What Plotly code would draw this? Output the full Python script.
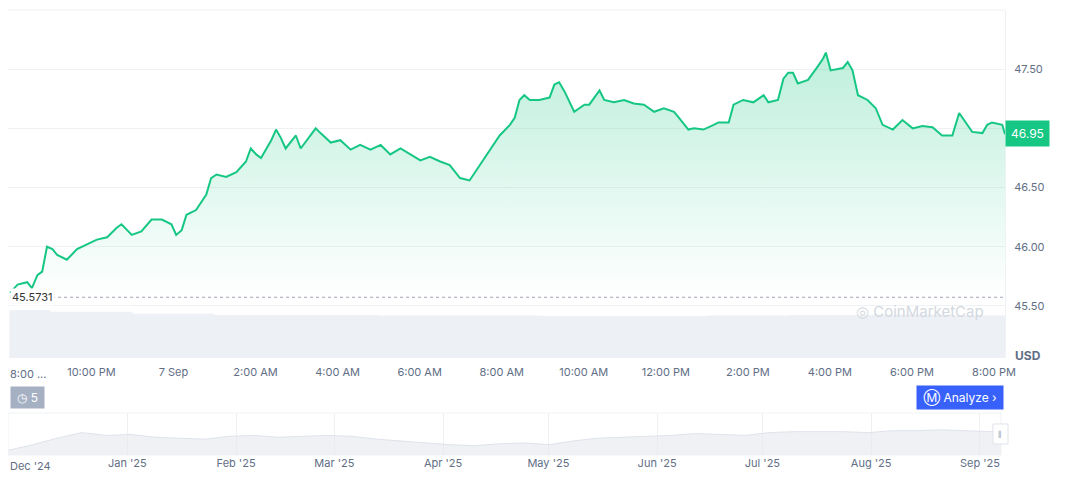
import plotly.graph_objects as go

times = ["2025-09-06 20:01","2025-09-06 20:12","2025-09-06 20:26","2025-09-06 20:33","2025-09-06 20:41","2025-09-06 20:48","2025-09-06 20:55","2025-09-06 21:03","2025-09-06 21:10","2025-09-06 21:24","2025-09-06 21:39","2025-09-06 21:53","2025-09-06 22:08","2025-09-06 22:23","2025-09-06 22:37","2025-09-06 22:44","2025-09-06 22:59","2025-09-06 23:13","2025-09-06 23:28","2025-09-06 23:43","2025-09-06 23:57",
"2025-09-07 00:04","2025-09-07 00:12","2025-09-07 00:19","2025-09-07 00:33","2025-09-07 00:48","2025-09-07 00:55","2025-09-07 01:03","2025-09-07 01:17","2025-09-07 01:32","2025-09-07 01:46","2025-09-07 01:53","2025-09-07 02:01","2025-09-07 02:08","2025-09-07 02:23","2025-09-07 02:30","2025-09-07 02:37","2025-09-07 02:44","2025-09-07 02:59","2025-09-07 03:06","2025-09-07 03:21","2025-09-07 03:28","2025-09-07 03:35","2025-09-07 03:50","2025-09-07 04:04","2025-09-07 04:19","2025-09-07 04:33","2025-09-07 04:48","2025-09-07 05:03","2025-09-07 05:17","2025-09-07 05:32","2025-09-07 05:46","2025-09-07 06:01","2025-09-07 06:15","2025-09-07 06:30","2025-09-07 06:44","2025-09-07 06:59","2025-09-07 07:13","2025-09-07 07:28","2025-09-07 07:43","2025-09-07 07:57","2025-09-07 08:12","2025-09-07 08:19","2025-09-07 08:26","2025-09-07 08:33","2025-09-07 08:41","2025-09-07 08:55","2025-09-07 09:10","2025-09-07 09:17","2025-09-07 09:24","2025-09-07 09:32","2025-09-07 09:46","2025-09-07 10:01","2025-09-07 10:08","2025-09-07 10:23","2025-09-07 10:30","2025-09-07 10:44","2025-09-07 10:59","2025-09-07 11:13","2025-09-07 11:28","2025-09-07 11:43","2025-09-07 11:57","2025-09-07 12:12","2025-09-07 12:19","2025-09-07 12:33","2025-09-07 12:41","2025-09-07 12:55","2025-09-07 13:10","2025-09-07 13:17","2025-09-07 13:32","2025-09-07 13:39","2025-09-07 13:53","2025-09-07 14:08","2025-09-07 14:23","2025-09-07 14:30","2025-09-07 14:44","2025-09-07 14:52","2025-09-07 14:59","2025-09-07 15:06","2025-09-07 15:13","2025-09-07 15:28","2025-09-07 15:43","2025-09-07 15:50","2025-09-07 15:54","2025-09-07 16:01","2025-09-07 16:19","2025-09-07 16:26","2025-09-07 16:33","2025-09-07 16:41","2025-09-07 16:55","2025-09-07 17:07","2025-09-07 17:17","2025-09-07 17:32","2025-09-07 17:46","2025-09-07 18:01","2025-09-07 18:15","2025-09-07 18:30","2025-09-07 18:44","2025-09-07 18:59","2025-09-07 19:09","2025-09-07 19:18","2025-09-07 19:28","2025-09-07 19:43","2025-09-07 19:50","2025-09-07 19:57","2025-09-07 20:12","2025-09-07 20:16"]
prices = [45.61,45.68,45.70,45.65,45.76,45.79,46.00,45.98,45.93,45.89,45.98,46.02,46.06,46.08,46.16,46.19,46.10,46.13,46.23,46.23,46.19,
46.10,46.14,46.27,46.31,46.44,46.58,46.61,46.59,46.63,46.72,46.83,46.78,46.75,46.90,46.99,46.92,46.83,46.94,46.83,46.94,47.00,46.96,46.88,46.90,46.82,46.86,46.82,46.86,46.78,46.83,46.78,46.73,46.76,46.72,46.69,46.58,46.56,46.69,46.83,46.94,47.03,47.09,47.24,47.28,47.24,47.24,47.26,47.37,47.39,47.31,47.14,47.20,47.20,47.32,47.24,47.22,47.24,47.21,47.20,47.14,47.17,47.14,47.09,46.99,47.00,46.99,47.03,47.05,47.05,47.20,47.24,47.22,47.28,47.22,47.24,47.42,47.47,47.47,47.38,47.41,47.53,47.59,47.64,47.49,47.51,47.56,47.49,47.28,47.24,47.17,47.03,46.99,47.07,47.00,47.02,47.01,46.94,46.94,47.13,47.05,46.97,46.96,47.03,47.05,47.03,46.95]

open_price = 45.5731
last_price = 46.95

vol_times = ["2025-09-06 20:00","2025-09-06 21:00","2025-09-06 23:00","2025-09-07 01:00","2025-09-07 03:00","2025-09-07 05:00","2025-09-07 07:00","2025-09-07 09:00","2025-09-07 11:00","2025-09-07 13:00","2025-09-07 15:00","2025-09-07 17:00","2025-09-07 19:00","2025-09-07 20:16"]
vol_values = [1.00,0.97,0.93,0.90,0.90,0.89,0.89,0.88,0.88,0.89,0.90,0.91,0.89,0.88]

tick_vals = ["2025-09-06 22:00","2025-09-07 00:00","2025-09-07 02:00","2025-09-07 04:00","2025-09-07 06:00","2025-09-07 08:00","2025-09-07 10:00","2025-09-07 12:00","2025-09-07 14:00","2025-09-07 16:00","2025-09-07 18:00","2025-09-07 20:00"]
tick_text = ["10:00 PM","7 Sep","2:00 AM","4:00 AM","6:00 AM","8:00 AM","10:00 AM","12:00 PM","2:00 PM","4:00 PM","6:00 PM","8:00 PM"]
first_tick = "8:00 ..."

nav_dates = ["2024-11-28","2024-12-05","2024-12-12","2024-12-19","2024-12-26","2025-01-02","2025-01-09","2025-01-16","2025-01-23","2025-01-30","2025-02-06","2025-02-13","2025-02-20","2025-02-27","2025-03-06","2025-03-13","2025-03-20","2025-03-27","2025-04-03","2025-04-10","2025-04-17","2025-04-24","2025-05-01","2025-05-08","2025-05-15","2025-05-22","2025-05-29","2025-06-05","2025-06-12","2025-06-19","2025-06-26","2025-07-03","2025-07-10","2025-07-17","2025-07-24","2025-07-31","2025-08-07","2025-08-14","2025-08-21","2025-08-28","2025-09-04","2025-09-07"]
nav_values = [44.0,44.6,45.3,45.9,45.6,45.7,45.4,45.3,45.2,45.5,45.6,45.4,45.5,45.6,45.5,45.2,45.0,44.8,44.6,44.5,44.7,44.8,44.6,45.0,45.3,45.4,45.5,45.6,45.8,45.7,45.6,45.9,46.0,46.0,46.0,45.9,46.1,46.1,46.2,46.1,46.0,46.1]
nav_ticks = ["2025-01-01","2025-02-01","2025-03-01","2025-04-01","2025-05-01","2025-06-01","2025-07-01","2025-08-01","2025-09-01"]
nav_text = ["Jan '25","Feb '25","Mar '25","Apr '25","May '25","Jun '25","Jul '25","Aug '25","Sep '25"]
nav_first = "Dec '24"

green = "#16c784"
grey = "#616e85"
W, H = 1072, 477
OX, OY = 10, 8
def X(px): return max(0.0, (px - OX) / W)
def Y(py): return min(1.0, (H - (py - OY)) / H)

fig = go.Figure()
fig.add_trace(go.Scatter(x=vol_times, y=vol_values, mode="lines", line=dict(width=0, shape="hv"),
                         fill="tozeroy", fillcolor="rgba(222,227,235,0.55)", xaxis="x", yaxis="y2", hoverinfo="skip"))
fig.add_trace(go.Scatter(x=[times[0], times[-1]], y=[open_price, open_price], mode="lines",
                         line=dict(color="#9aa3b3", width=1, dash="dot"), hoverinfo="skip"))
fig.add_trace(go.Scatter(x=times, y=[open_price]*len(times), mode="lines", line=dict(width=0), hoverinfo="skip"))
fig.add_trace(go.Scatter(x=times, y=prices, mode="lines", line=dict(color=green, width=2),
                         fill="tonexty",
                         fillgradient=dict(type="vertical", colorscale=[[0, "rgba(22,199,132,0.0)"], [1, "rgba(22,199,132,0.28)"]])))
fig.add_trace(go.Scatter(x=nav_dates, y=nav_values, mode="lines", line=dict(color="#dfe3ea", width=1),
                         fill="tozeroy", fillcolor="rgba(228,232,238,0.6)", xaxis="x3", yaxis="y3", hoverinfo="skip"))

def note(px, py, text, size, color, xanchor="center", **kw):
    return dict(x=X(px), y=Y(py), xref="paper", yref="paper", text=text, showarrow=False,
                xanchor=xanchor, yanchor="middle", font=dict(size=size, color=color), **kw)

fig.update_layout(
    width=W, height=H, margin=dict(l=0, r=0, t=0, b=0),
    paper_bgcolor="white", plot_bgcolor="rgba(0,0,0,0)", showlegend=False,
    font=dict(family="Inter, Roboto, sans-serif", size=11, color=grey),
    xaxis=dict(domain=[X(8), X(1007)], range=["2025-09-06 19:58", "2025-09-07 20:16"], tickvals=tick_vals, ticktext=tick_text,
               showgrid=False, zeroline=False, anchor="y", tickfont=dict(size=11, color=grey), ticks="",
               ticklabelstandoff=6, automargin=False),
    yaxis=dict(domain=[Y(358), Y(10)], range=[45.06, 48.0], side="right", tickvals=[45.5, 46.0, 46.5, 47.0, 47.5],
               ticktext=["45.50", "46.00", "46.50", "", "47.50"], gridcolor="#eff2f5", zeroline=False,
               showline=True, linecolor="#eff2f5", ticklabelstandoff=6, tickfont=dict(size=11, color=grey), automargin=False),
    yaxis2=dict(domain=[Y(358), Y(10)], range=[0, 7.3], overlaying="y", visible=False),
    xaxis3=dict(domain=[X(10), X(1003)], range=["2024-11-28", "2025-09-07"], tickvals=nav_ticks, ticktext=nav_text,
                anchor="y3", showgrid=True, gridcolor="#eef0f3", zeroline=False, ticks="", tickfont=dict(size=11, color=grey),
                automargin=False),
    yaxis3=dict(domain=[Y(455), Y(413)], range=[43.5, 48.0], visible=False),
    shapes=[
        dict(type="line", xref="paper", yref="paper", x0=X(8), x1=X(1007), y0=Y(10), y1=Y(10), line=dict(color="#eff2f5", width=1)),
        dict(type="rect", xref="paper", yref="paper", x0=X(10), x1=X(1003), y0=Y(455), y1=Y(413), line=dict(color="#eff2f5", width=1)),
        dict(type="rect", xref="paper", yref="paper", x0=X(995), x1=X(1010), y0=Y(444), y1=Y(424), fillcolor="white", line=dict(color="#dfe3ea", width=1)),
    ],
    annotations=[
        note(10, 374, first_tick, 11, grey, xanchor="left"),
        note(10, 466, nav_first, 11, grey, xanchor="left"),
        note(12, 297, "45.5731", 11, "#333", xanchor="left", bgcolor="white"),
        note(1029, 133, "46.95", 12, "white", bgcolor=green, borderpad=5),
        note(1045, 355, "<b>USD</b>", 12, grey, xanchor="right"),
        note(922, 311, "◎ CoinMarketCap", 15, "#d3d8e0"),
        note(962, 397, " Ⓜ Analyze › ", 12, "white", bgcolor="#3861fb", borderpad=3),
        note(29, 397, " ◷ 5 ", 12, "white", bgcolor="#a6b0c3", borderpad=3),
        note(1002, 434, "ǁ", 10, "#a6b0c3"),
    ],
)
fig.write_html("out.html")
